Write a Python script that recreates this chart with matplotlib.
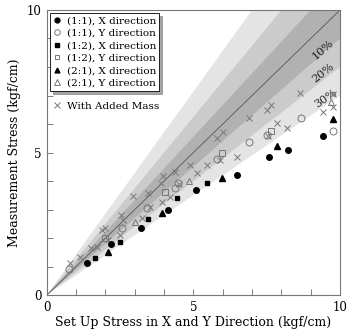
import matplotlib
matplotlib.use("Agg")
import matplotlib.pyplot as plt
import numpy as np
from matplotlib.lines import Line2D

plt.rcParams['font.family'] = ['DejaVu Serif']

# (1:1) X direction - filled circles
c11x_x = [1.37, 2.18, 3.21, 4.13, 5.09, 6.47, 7.58, 8.23, 9.42]
c11x_y = [1.12, 1.79, 2.35, 2.98, 3.68, 4.21, 4.84, 5.09, 5.58]
# (1:1) Y direction - open circles
c11y_x = [0.76, 2.55, 3.40, 4.37, 4.48, 5.79, 6.89, 7.50, 8.66, 9.77]
c11y_y = [0.91, 2.35, 3.04, 3.74, 3.92, 4.76, 5.36, 5.61, 6.20, 5.75]
# (1:2) X direction - filled squares
c12x_x = [1.64, 2.49, 3.44, 4.43, 5.45]
c12x_y = [1.31, 1.87, 2.66, 3.39, 3.94]
# (1:2) Y direction - open squares
c12y_x = [1.98, 4.03, 5.98, 7.63]
c12y_y = [1.99, 3.63, 4.97, 5.77]
# (2:1) X direction - filled triangles
c21x_x = [2.07, 3.94, 5.96, 7.84, 9.75]
c21x_y = [1.52, 2.87, 4.09, 5.24, 6.16]
# (2:1) Y direction - open triangles
c21y_x = [3.00, 4.85, 9.70]
c21y_y = [2.55, 4.01, 6.78]
# with added mass - crosses
mass_x = [0.78, 1.13, 1.52, 1.72, 1.87, 1.98, 2.09, 2.49, 2.52, 2.60, 2.95, 3.23,
          3.46, 3.52, 3.91, 3.94, 3.97, 4.20, 4.37, 4.52, 4.88, 5.11, 5.45, 5.79,
          5.90, 6.02, 6.47, 6.90, 7.50, 7.55, 7.63, 7.84, 8.20, 8.63, 9.43, 9.77, 9.77]
mass_y = [1.11, 1.35, 1.64, 1.70, 2.28, 2.34, 1.93, 2.10, 2.80, 2.63, 3.49, 2.69,
          3.57, 3.10, 3.92, 3.27, 4.18, 3.45, 4.33, 3.89, 4.56, 4.27, 4.56, 5.50,
          4.74, 5.73, 4.85, 6.20, 6.49, 5.58, 6.67, 6.02, 5.85, 7.10, 6.43, 7.05, 6.61]

bands = [0.3, 0.2, 0.1]
band_colors = ['#e4e4e4', '#cbcbcb', '#b1b1b1']
band_labels = ['30%', '20%', '10%']
label_pos = [(9.5, 6.9), (9.42, 7.8), (9.42, 8.62)]

fig = plt.figure(figsize=(3.47, 3.33), dpi=100)
ax = fig.add_axes([0.135, 0.114, 0.845, 0.856])

xx = np.linspace(0, 12, 50)
for p, col in zip(bands, band_colors):
    ax.fill_between(xx, xx * (1 - p), xx / (1 - p), color=col, lw=0, zorder=1)
ax.plot([0, 10], [0, 10], color='#555555', lw=0.6, zorder=2)

for (lx, ly), lab, p in zip(label_pos, band_labels, bands):
    ang = np.degrees(np.arctan((1 - p) * 28.5 / 29.3))
    ax.text(lx, ly, lab, fontsize=8, rotation=ang, ha='center', va='center',
            color='#222222', zorder=3)

gray = '#777777'
ms = 4
ax.plot(mass_x, mass_y, 'x', color=gray, ms=5, mew=0.7, zorder=4)
ax.plot(c11x_x, c11x_y, 'o', color='black', ms=ms, zorder=5)
ax.plot(c11y_x, c11y_y, 'o', mfc='none', mec=gray, ms=ms + 1, mew=0.7, zorder=5)
ax.plot(c12x_x, c12x_y, 's', color='black', ms=ms - 0.5, zorder=5)
ax.plot(c12y_x, c12y_y, 's', mfc='none', mec=gray, ms=ms, mew=0.7, zorder=5)
ax.plot(c21x_x, c21x_y, '^', color='black', ms=ms, zorder=5)
ax.plot(c21y_x, c21y_y, '^', mfc='none', mec=gray, ms=ms + 1, mew=0.7, zorder=5)

ax.set_xlim(0, 10)
ax.set_ylim(0, 10)
ax.set_xticks(range(11))
ax.set_yticks(range(11))
ax.set_xticklabels(['0', '', '', '', '', '5', '', '', '', '', '10'])
ax.set_yticklabels(['0', '', '', '', '', '5', '', '', '', '', '10'])
ax.tick_params(direction='in', length=4, width=0.6, color='#666666', labelsize=8.5,
               pad=4)
for s in ax.spines.values():
    s.set_color('#777777')
    s.set_linewidth(0.8)
ax.set_xlabel('Set Up Stress in X and Y Direction (kgf/cm)', fontsize=9, labelpad=2)
ax.set_ylabel('Measurement Stress (kgf/cm)', fontsize=9, labelpad=4)

handles = [
    Line2D([], [], ls='none', marker='o', color='black', ms=3.5),
    Line2D([], [], ls='none', marker='o', mfc='none', mec=gray, ms=4, mew=0.7),
    Line2D([], [], ls='none', marker='s', color='black', ms=3),
    Line2D([], [], ls='none', marker='s', mfc='none', mec=gray, ms=3.5, mew=0.7),
    Line2D([], [], ls='none', marker='^', color='black', ms=3.5),
    Line2D([], [], ls='none', marker='^', mfc='none', mec=gray, ms=4, mew=0.7),
]
labels = ['(1:1), X direction', '(1:1), Y direction', '(1:2), X direction',
          '(1:2), Y direction', '(2:1), X direction', '(2:1), Y direction']
leg = ax.legend(handles, labels, loc='upper left', bbox_to_anchor=(0.0, 1.0),
                fontsize=7.5, frameon=True, fancybox=False, shadow=True,
                edgecolor='black', framealpha=1, handlelength=0.8,
                handletextpad=0.5, borderpad=0.3, labelspacing=0.3,
                borderaxespad=0.3)
leg.get_frame().set_linewidth(0.6)
ax.add_artist(leg)
h2 = [Line2D([], [], ls='none', marker='x', color=gray, ms=5, mew=0.7)]
ax.legend(h2, ['With Added Mass'], loc='upper left', bbox_to_anchor=(0.0, 0.7),
          fontsize=7.5, frameon=False, handlelength=0.8, handletextpad=0.5,
          borderpad=0.3, borderaxespad=0.3)

plt.savefig('out.png', dpi=100)
